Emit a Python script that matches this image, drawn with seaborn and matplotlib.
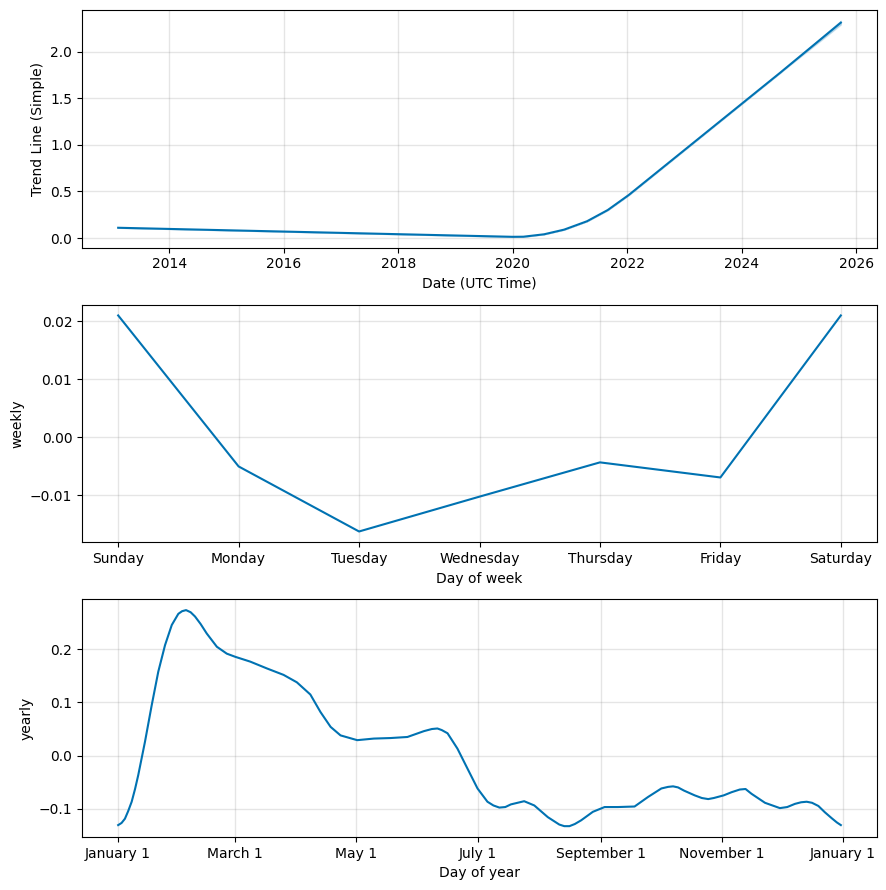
import pandas as pd
import matplotlib
matplotlib.use('Agg')
import matplotlib.pyplot as plt
import matplotlib.dates as mdates
import seaborn as sns

# Тренд (точки излома кусочно-линейного тренда)
trend_dates = ['2013-02-10', '2019-12-31', '2020-03-10', '2020-07-20', '2020-11-25',
               '2021-04-20', '2021-08-30', '2022-01-10', '2024-09-01', '2025-09-25']
trend_vals = [0.110, 0.013, 0.014, 0.040, 0.090, 0.180, 0.300, 0.460, 1.770, 2.310]
trend_lower = [0.110, 0.013, 0.014, 0.040, 0.090, 0.180, 0.300, 0.460, 1.770, 2.290]
trend_upper = [0.110, 0.013, 0.014, 0.040, 0.090, 0.180, 0.300, 0.460, 1.770, 2.330]

# Недельная сезонность
week_days = ['Sunday', 'Monday', 'Tuesday', 'Wednesday', 'Thursday', 'Friday', 'Saturday']
weekly_vals = [0.0210, -0.0050, -0.0162, -0.0102, -0.0043, -0.0069, 0.0210]

# Годовая сезонность (день года -> значение)
year_days = [0, 1.7, 3.4, 5, 6.8, 8.5, 10.1, 13.5, 16.9, 20.2, 23.6, 27, 30.3, 32.2, 34.2,
             36.5, 38.7, 41.5, 44.6, 49.7, 54.7, 59, 66.5, 75, 83.3, 90, 96.8, 101.9, 107,
             112, 120.4, 128.8, 137.2, 145.7, 154, 158, 160.8, 163, 165.9, 170.9, 176,
             181, 186, 189, 192, 195, 197.8, 204.5, 209.6, 216.4, 222.2, 224.7, 227.3,
             230, 233.2, 239.1, 245, 251.7, 260.1, 266.9, 273.6, 277, 279.5, 282, 285,
             290.4, 294, 297.2, 300, 305, 309, 313.1, 316, 319, 325.8, 333.3, 337, 340.9,
             344, 346.8, 349.5, 352.7, 356, 359.4, 362, 364]
yearly_vals = [-0.131, -0.127, -0.119, -0.105, -0.087, -0.063, -0.037, 0.026, 0.095, 0.158,
               0.208, 0.246, 0.267, 0.272, 0.274, 0.270, 0.262, 0.248, 0.230, 0.205, 0.192,
               0.186, 0.177, 0.164, 0.152, 0.138, 0.115, 0.082, 0.054, 0.038, 0.029, 0.032,
               0.033, 0.035, 0.046, 0.050, 0.051, 0.048, 0.042, 0.013, -0.025, -0.062,
               -0.087, -0.094, -0.098, -0.097, -0.092, -0.086, -0.094, -0.116, -0.130,
               -0.133, -0.133, -0.129, -0.122, -0.106, -0.097, -0.097, -0.096, -0.078,
               -0.062, -0.059, -0.058, -0.060, -0.066, -0.075, -0.080, -0.082, -0.080,
               -0.075, -0.069, -0.064, -0.063, -0.072, -0.089, -0.099, -0.097, -0.091,
               -0.088, -0.087, -0.089, -0.095, -0.107, -0.118, -0.126, -0.131]

color = '#0072B2'

df_trend = pd.DataFrame({'ds': pd.to_datetime(trend_dates), 'trend': trend_vals,
                         'lower': trend_lower, 'upper': trend_upper})
df_week = pd.DataFrame({'day': range(len(week_days)), 'weekly': weekly_vals})
df_year = pd.DataFrame({'ds': pd.Timestamp('2017-01-01') + pd.to_timedelta(year_days, unit='D'),
                        'yearly': yearly_vals})

fig, axes = plt.subplots(3, 1, figsize=(8.86, 8.9), dpi=100)
fig.subplots_adjust(left=0.0926, right=0.9898, top=0.9888, bottom=0.0596, hspace=0.24)

# Тренд
ax = axes[0]
sns.lineplot(data=df_trend, x='ds', y='trend', color=color, ax=ax)
ax.fill_between(df_trend['ds'], df_trend['lower'], df_trend['upper'], color=color, alpha=0.2)
ax.set_xlabel('Date (UTC Time)')
ax.set_ylabel('Trend Line (Simple)')
ax.xaxis.set_major_locator(mdates.YearLocator(2))
ax.xaxis.set_major_formatter(mdates.DateFormatter('%Y'))

# Недельная
ax = axes[1]
sns.lineplot(data=df_week, x='day', y='weekly', color=color, ax=ax)
ax.set_xticks(range(len(week_days)))
ax.set_xticklabels(week_days)
ax.set_xlabel('Day of week')
ax.set_ylabel('weekly')

# Годовая
ax = axes[2]
sns.lineplot(data=df_year, x='ds', y='yearly', color=color, ax=ax)
ax.xaxis.set_major_locator(mdates.MonthLocator(bymonth=[1, 3, 5, 7, 9, 11]))
ax.xaxis.set_major_formatter(mdates.DateFormatter('%B %-d'))
ax.set_xlabel('Day of year')
ax.set_ylabel('yearly')

for ax in axes:
    ax.grid(True, which='major', c='gray', ls='-', lw=1, alpha=0.2)

fig.savefig('out.png', dpi=100)
